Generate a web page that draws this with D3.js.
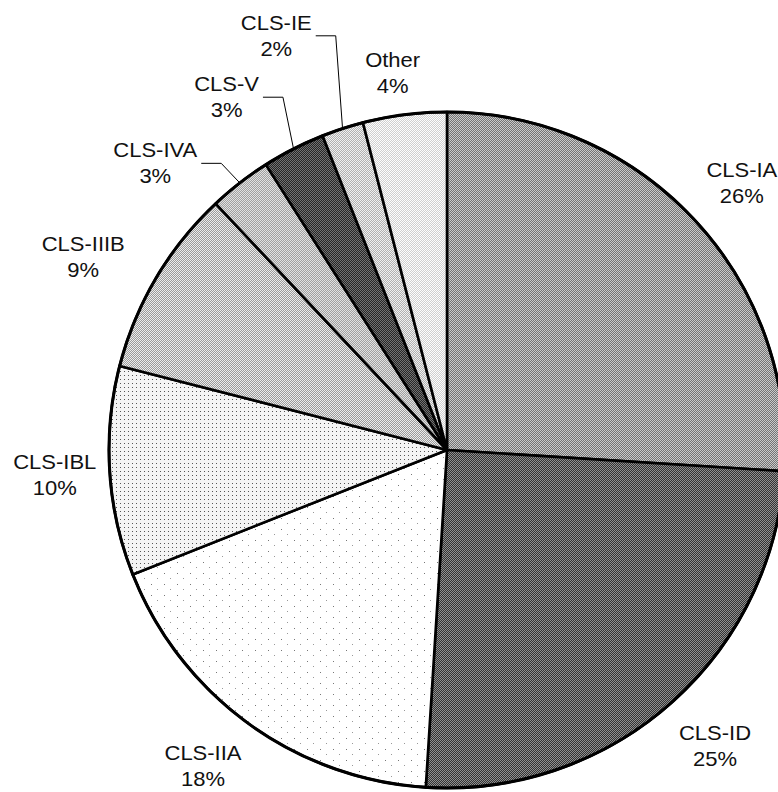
<!DOCTYPE html>
<html>
<head>
<meta charset="utf-8">
<script src="https://cdn.jsdelivr.net/npm/d3@7"></script>
<style>
  html, body { margin: 0; padding: 0; background: #fff; }
  svg text { font-family: "Liberation Sans", Arial, sans-serif; font-size: 20px; fill: #111; }
</style>
</head>
<body>
<svg id="piesvg"></svg>
<script>
// data
var categories = ["CLS-IA", "CLS-ID", "CLS-IIA", "CLS-IBL", "CLS-IIIB", "CLS-IVA", "CLS-V", "CLS-IE", "Other"];
var shares = [26, 25, 18, 10, 9, 3, 3, 2, 4];
var shareLabels = ["26%", "25%", "18%", "10%", "9%", "3%", "3%", "2%", "4%"];

var width = 778, height = 792,
    cx = 447, cy = 450,
    radius = 338;

// dither-like fills: [colour a, colour b, kind]
var fills = {
  "CLS-IA":  ["#747474", "#cacaca", "checker"],
  "CLS-ID":  ["#333333", "#909090", "checker"],
  "CLS-IIA": ["#ffffff", "#f2f2f2", "sparse"],
  "CLS-IBL": ["#ffffff", "#555555", "grid"],
  "CLS-IIIB":["#9a9a9a", "#ececec", "checker"],
  "CLS-IVA": ["#a0a0a0", "#e2e2e2", "checker"],
  "CLS-V":   ["#262626", "#727272", "checker"],
  "CLS-IE":  ["#b0b0b0", "#f0f0f0", "checker"],
  "Other":   ["#cfcfcf", "#fdfdfd", "checker"]
};

// where the labels sit: distance from centre and angle shift (deg) from slice middle
var labelPlace = {
  "CLS-IA":  {r: 398, shift: 1},
  "CLS-ID":  {r: 399, shift: -0.8},
  "CLS-IIA": {r: 399, shift: 1.7},
  "CLS-IBL": {r: 393, shift: 0},
  "CLS-IIIB":{r: 412, shift: -2.6},
  "CLS-IVA": {r: 409, shift: -7.7, leader: true},
  "CLS-V":   {r: 416, shift: -5, leader: true},
  "CLS-IE":  {r: 448, shift: -4.4, leader: true},
  "Other":   {r: 381, shift: -1}
};

var svg = d3.select("#piesvg")
    .attr("width", width)
    .attr("height", height);

var defs = svg.append("defs");

categories.forEach(function(c, i){
  var f = fills[c];
  var p;
  if (f[2] === "checker") {
    p = defs.append("pattern").attr("id", "pat" + i)
        .attr("patternUnits", "userSpaceOnUse").attr("width", 2).attr("height", 2);
    p.append("rect").attr("width", 2).attr("height", 2).attr("fill", f[1]);
    p.append("rect").attr("x", 0).attr("y", 0).attr("width", 1).attr("height", 1).attr("fill", f[0]);
    p.append("rect").attr("x", 1).attr("y", 1).attr("width", 1).attr("height", 1).attr("fill", f[0]);
  } else if (f[2] === "grid") {
    p = defs.append("pattern").attr("id", "pat" + i)
        .attr("patternUnits", "userSpaceOnUse").attr("width", 4).attr("height", 4);
    p.append("rect").attr("width", 4).attr("height", 4).attr("fill", "#f4f4f4");
    p.append("rect").attr("x", 1).attr("y", 1).attr("width", 1).attr("height", 1).attr("fill", f[1]);
  } else {
    p = defs.append("pattern").attr("id", "pat" + i)
        .attr("patternUnits", "userSpaceOnUse").attr("width", 13).attr("height", 11);
    p.append("rect").attr("width", 13).attr("height", 11).attr("fill", f[0]);
    p.append("rect").attr("x", 3).attr("y", 2).attr("width", 1).attr("height", 1).attr("fill", "#777");
    p.append("rect").attr("x", 9).attr("y", 7).attr("width", 1).attr("height", 1).attr("fill", "#999");
  }
});

var pie = d3.pie().sort(null).value(function(d){ return d; });
var arcs = pie(shares);

var arc = d3.arc().innerRadius(0).outerRadius(radius);

var g = svg.append("g").attr("transform", "translate(" + cx + "," + cy + ")");

g.selectAll("path.slice")
  .data(arcs)
  .enter()
  .append("path")
  .attr("class", "slice")
  .attr("d", arc)
  .attr("fill", function(d, i){ return "url(#pat" + i + ")"; })
  .attr("stroke", "#000")
  .attr("stroke-width", 2.6)
  .attr("stroke-linejoin", "round");

// outer rim a bit heavier
g.append("circle").attr("r", radius).attr("fill", "none").attr("stroke", "#000").attr("stroke-width", 3);

function polar(r, ang){
  return [r * Math.sin(ang), -r * Math.cos(ang)];
}

g.selectAll("g.lbl")
  .data(arcs)
  .enter()
  .append("g")
  .attr("class", "lbl")
  .each(function(d, i){
    var c = categories[i], pl = labelPlace[c];
    var mid = (d.startAngle + d.endAngle) / 2;
    var pos = polar(pl.r, mid + pl.shift * Math.PI / 180);
    // the scanned lettering is a little wider than Arial
    var t = d3.select(this).append("text")
      .attr("text-anchor", "middle")
      .attr("transform", "translate(" + pos[0] + "," + pos[1] + ") scale(1.1,1)");
    t.append("tspan").attr("x", 0).attr("y", -6).text(c);
    t.append("tspan").attr("x", 0).attr("y", 20).text(shareLabels[i]);

    if (pl.leader) {
      var w = t.select("tspan").node().getComputedTextLength() * 1.1;
      var ly = pos[1];
      var x0 = pos[0] + w / 2 + 4;
      var tip = polar(radius, mid);
      d3.select(this).append("polyline")
        .attr("points", [[x0, ly], [x0 + 20, ly], tip].map(function(p){ return p.join(","); }).join(" "))
        .attr("fill", "none")
        .attr("stroke", "#000")
        .attr("stroke-width", 1);
    }
  });
</script>
</body>
</html>
